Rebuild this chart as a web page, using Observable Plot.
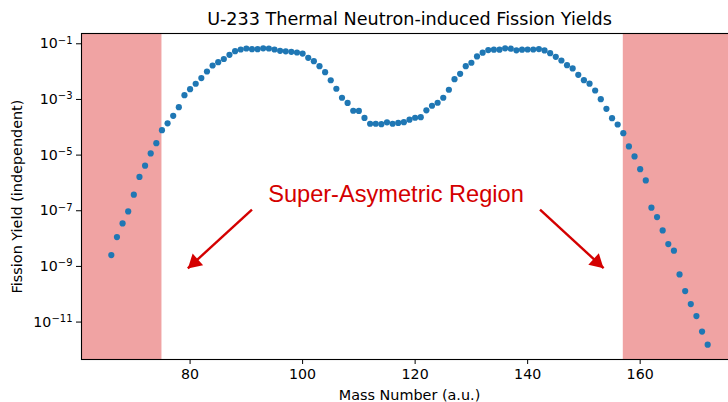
<!DOCTYPE html>
<html>
<head>
<meta charset="utf-8">
<script src="https://cdn.jsdelivr.net/npm/d3@7"></script>
<script src="https://cdn.jsdelivr.net/npm/@observablehq/plot@0.6"></script>
<style>
  html, body { margin: 0; padding: 0; background: #fff; overflow: hidden; }
  #chart { width: 728px; height: 402px; overflow: hidden; }
  #chart svg { max-width: none !important; }
</style>
</head>
<body>
<div id="chart"></div>
<script>
// Mass numbers A of the fission products
const massNumbers = [
  66, 67, 68, 69, 70, 71, 72, 73, 74, 75, 76, 77, 78, 79, 80, 81, 82, 83, 84, 85,
  86, 87, 88, 89, 90, 91, 92, 93, 94, 95, 96, 97, 98, 99, 100, 101, 102, 103, 104, 105,
  106, 107, 108, 109, 110, 111, 112, 113, 114, 115, 116, 117, 118, 119, 120, 121, 122, 123, 124, 125,
  126, 127, 128, 129, 130, 131, 132, 133, 134, 135, 136, 137, 138, 139, 140, 141, 142, 143, 144, 145,
  146, 147, 148, 149, 150, 151, 152, 153, 154, 155, 156, 157, 158, 159, 160, 161, 162, 163, 164, 165,
  166, 167, 168, 169, 170, 171, 172
];

// Independent fission yield per mass number (U-233, thermal neutrons)
const yields = [
  2.55e-9, 1.13e-8, 3.5e-8, 9.5e-8, 3.77e-7, 1.64e-6, 4.18e-6, 1.15e-5, 2.69e-5, 7.88e-5,
  1.39e-4, 2.59e-4, 5.28e-4, 1.43e-3, 2.34e-3, 3.66e-3, 5.86e-3, 1.01e-2, 1.66e-2, 2.18e-2,
  2.84e-2, 4.03e-2, 5.42e-2, 6.24e-2, 6.78e-2, 6.40e-2, 6.40e-2, 6.89e-2, 6.78e-2, 6.24e-2,
  5.61e-2, 5.38e-2, 5.16e-2, 4.87e-2, 4.45e-2, 3.14e-2, 2.37e-2, 1.57e-2, 9.55e-3, 4.89e-3,
  2.42e-3, 1.15e-3, 7.48e-4, 3.92e-4, 3.86e-4, 2.16e-4, 1.34e-4, 1.34e-4, 1.29e-4, 1.51e-4,
  1.34e-4, 1.43e-4, 1.53e-4, 1.88e-4, 2.20e-4, 2.31e-4, 4.08e-4, 5.93e-4, 7.60e-4, 1.15e-3,
  2.23e-3, 5.35e-3, 8.36e-3, 1.57e-2, 2.08e-2, 3.53e-2, 4.79e-2, 5.94e-2, 6.14e-2, 6.14e-2,
  6.89e-2, 6.67e-2, 5.85e-2, 6.14e-2, 6.24e-2, 6.24e-2, 6.45e-2, 5.79e-2, 4.60e-2, 3.41e-2,
  2.51e-2, 1.70e-2, 1.30e-2, 7.70e-3, 4.93e-3, 3.69e-3, 2.10e-3, 1.02e-3, 4.62e-4, 2.13e-4,
  1.26e-4, 6.15e-5, 2.05e-5, 8.95e-6, 3.13e-6, 1.23e-6, 1.29e-7, 5.91e-8, 1.97e-8, 6.34e-9,
  3.67e-9, 5.17e-10, 1.30e-10, 4.43e-11, 1.64e-11, 4.56e-12, 1.54e-12
];

// Axis ticks (y labels are powers of ten: base + exponent)
const xTicks = [80, 100, 120, 140, 160];
const yTicks = [1e-1, 1e-3, 1e-5, 1e-7, 1e-9, 1e-11];
const yTickExponents = ["\u22121", "\u22123", "\u22125", "\u22127", "\u22129", "\u221211"];

// Super-asymmetric mass ranges (upper bound of the left one, lower bound of the right one)
const regionEdges = [75, 157];

// Texts
const titleText = "U-233 Thermal Neutron-induced Fission Yields";
const xLabel = "Mass Number (a.u.)";
const yLabel = "Fission Yield (independent)";
const noteText = "Super-Asymetric Region";

const xDomain = [60.7, 177.3];
const yDomain = [Math.pow(10, -12.345), Math.pow(10, -0.63)];

const points = massNumbers.map((a, i) => ({a, y: yields[i]}));
const regions = [
  {from: xDomain[0], to: regionEdges[0]},
  {from: regionEdges[1], to: xDomain[1]}
];

// Annotation arrows: from the label towards each tail of the distribution
const arrowLeft = {x1: 91.0, y1: 1.1e-7, x2: 79.6, y2: 8.5e-10, angle: 227.8};
const arrowRight = {x1: 142.2, y1: 1.1e-7, x2: 153.5, y2: 8.7e-10, angle: 132.2};
const note = {x: 116.6, y: 3.9e-7};

const red = "#d40000";

const chart = Plot.plot({
  width: 737,
  height: 402,
  marginLeft: 81,
  marginRight: 0,
  marginTop: 33,
  marginBottom: 43,
  style: {fontFamily: "DejaVu Sans", fontSize: "14.2px", color: "black", background: "white", maxWidth: "none"},
  x: {domain: xDomain, ticks: xTicks, tickSize: 5, tickPadding: 4, label: null},
  y: {
    type: "log",
    domain: yDomain,
    ticks: yTicks,
    tickFormat: d => "10" + yTickExponents[yTicks.indexOf(d)],
    tickSize: 5,
    tickPadding: 4,
    label: null
  },
  marks: [
    Plot.rect(regions, {x1: "from", x2: "to", fill: "#f0a3a3"}),
    Plot.dot(points, {x: "a", y: "y", r: 3.1, fill: "#1f77b4"}),
    Plot.link([arrowLeft, arrowRight], {x1: "x1", y1: "y1", x2: "x2", y2: "y2", stroke: red, strokeWidth: 2.4}),
    Plot.dot([arrowLeft], {x: "x2", y: "y2", symbol: "triangle", r: 5.8, rotate: "angle", fill: red, dx: 6.7, dy: -6.0}),
    Plot.dot([arrowRight], {x: "x2", y: "y2", symbol: "triangle", r: 5.8, rotate: "angle", fill: red, dx: -6.7, dy: -6.0}),
    Plot.text([note], {x: "x", y: "y", text: () => noteText, fill: red, fontSize: 23.6, fontFamily: "Liberation Sans", lineAnchor: "middle"}),
    Plot.frame({stroke: "black", strokeWidth: 1.1}),
    Plot.text([titleText], {text: d => d, frameAnchor: "top", textAnchor: "middle", lineAnchor: "middle", dy: -14, fontSize: 17.6}),
    Plot.text([xLabel], {text: d => d, frameAnchor: "bottom", textAnchor: "middle", lineAnchor: "middle", dy: 36, fontSize: 14.4}),
    Plot.text([yLabel], {text: d => d, frameAnchor: "left", textAnchor: "middle", lineAnchor: "middle", rotate: -90, dx: -64, fontSize: 14.4})
  ]
});

// Typeset the y tick labels as 10 with a raised exponent
const labelSet = new Set(yTickExponents.map(e => "10" + e));
d3.select(chart).selectAll("text").each(function () {
  const t = this.textContent;
  if (!labelSet.has(t)) return;
  const sel = d3.select(this);
  sel.text("10");
  sel.append("tspan").attr("dy", "-0.45em").attr("font-size", "10px").text(t.slice(2));
});

document.getElementById("chart").appendChild(chart);
</script>
</body>
</html>
